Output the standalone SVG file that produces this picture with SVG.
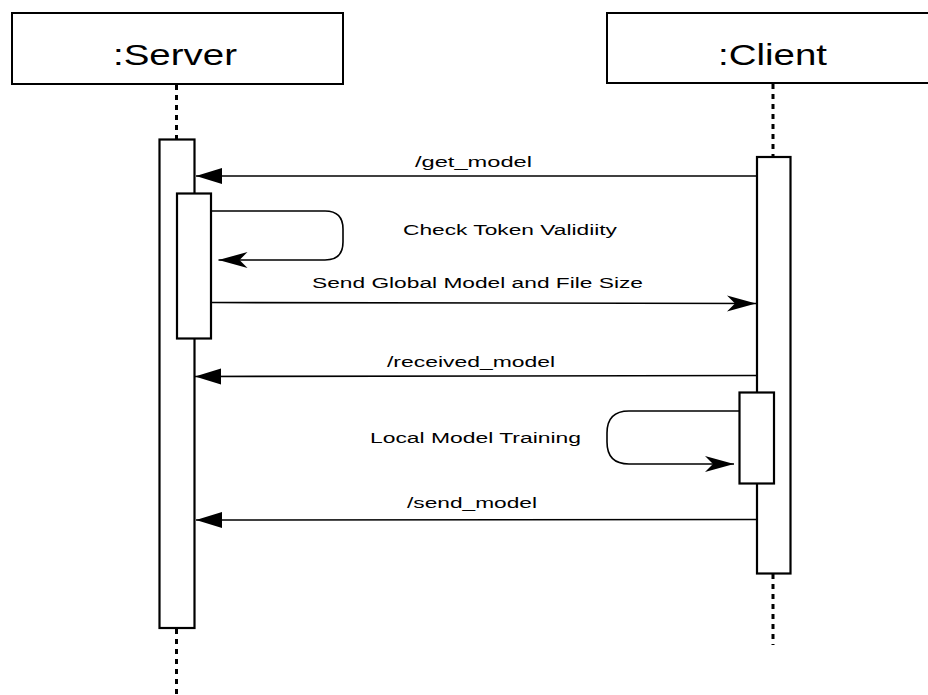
<svg xmlns="http://www.w3.org/2000/svg" width="928" height="695" viewBox="0 0 928 695">
<style>
  .hdr{fill:#fff;stroke:#000;stroke-width:2}
  .act{fill:#fff;stroke:#000;stroke-width:2.2}
  .life{stroke:#000;stroke-width:3;stroke-dasharray:5 5;fill:none}
  .msg{stroke:#000;stroke-width:1.6;fill:none}
  .t{font-family:"Liberation Sans",Arial,sans-serif;fill:#000}
  .big{font-size:30px}
  .sm{font-size:14px}
</style>
<defs>
  <marker id="solid" markerUnits="userSpaceOnUse" markerWidth="28" markerHeight="18" refX="26" refY="8" orient="auto" overflow="visible">
    <path d="M0,0 L26,8 L0,16 Z" fill="#000"/>
  </marker>
  <marker id="classic" markerUnits="userSpaceOnUse" markerWidth="30" markerHeight="18" refX="29" refY="8" orient="auto" overflow="visible">
    <path d="M0,0 L29,8 L0,16 L8,8 Z" fill="#000"/>
  </marker>
</defs>
<rect width="928" height="695" fill="#fff"/>

<g id="server">
  <line class="life" x1="176.5" y1="85" x2="176.5" y2="139"/>
  <line class="life" x1="176.5" y1="629" x2="176.5" y2="695"/>
  <rect class="hdr" x="12" y="13" width="331" height="71"/>
  <text class="t big" x="113" y="65" textLength="124" lengthAdjust="spacingAndGlyphs">:Server</text>
</g>
<g id="client">
  <line class="life" x1="773" y1="84" x2="773" y2="157"/>
  <line class="life" x1="773" y1="574" x2="773" y2="645"/>
  <rect class="hdr" x="607" y="13" width="333" height="70"/>
  <text class="t big" x="718" y="65" textLength="109" lengthAdjust="spacingAndGlyphs">:Client</text>
</g>
<g id="server-activation">
  <rect class="act" x="159.5" y="139.5" width="35" height="488.5"/>
</g>
<g id="server-check-activation">
  <rect class="act" x="177" y="193.5" width="34" height="145"/>
</g>
<g id="client-activation">
  <rect class="act" x="757" y="157" width="33.5" height="416.5"/>
</g>
<g id="client-training-activation">
  <rect class="act" x="739.5" y="392.5" width="34.5" height="91"/>
</g>

<g id="connectors">
  <line class="msg" x1="757" y1="176" x2="196" y2="176" marker-end="url(#solid)"/>
  <path class="msg" d="M211,211 H325 Q343,211 343,229 V242 Q343,260 325,260 H218.5" marker-end="url(#classic)"/>
  <line class="msg" x1="211" y1="302.5" x2="756" y2="303.5" marker-end="url(#classic)"/>
  <line class="msg" x1="757" y1="375.5" x2="195" y2="376.5" marker-end="url(#solid)"/>
  <path class="msg" d="M739.5,411 H629 Q607,411 607,433 V442 Q607,464 629,464 H734" marker-end="url(#classic)"/>
  <line class="msg" x1="757" y1="519.5" x2="196" y2="520" marker-end="url(#solid)"/>
</g>

<g id="labels">
  <text class="t sm" x="415" y="167" textLength="117" lengthAdjust="spacingAndGlyphs">/get_model</text>
  <text class="t sm" x="403" y="235" textLength="214" lengthAdjust="spacingAndGlyphs">Check Token Validiity</text>
  <text class="t sm" x="312" y="288" textLength="331" lengthAdjust="spacingAndGlyphs">Send Global Model and File Size</text>
  <text class="t sm" x="387" y="367" textLength="168" lengthAdjust="spacingAndGlyphs">/received_model</text>
  <text class="t sm" x="370" y="443" textLength="211" lengthAdjust="spacingAndGlyphs">Local Model Training</text>
  <text class="t sm" x="407" y="508" textLength="130" lengthAdjust="spacingAndGlyphs">/send_model</text>
</g>
</svg>
